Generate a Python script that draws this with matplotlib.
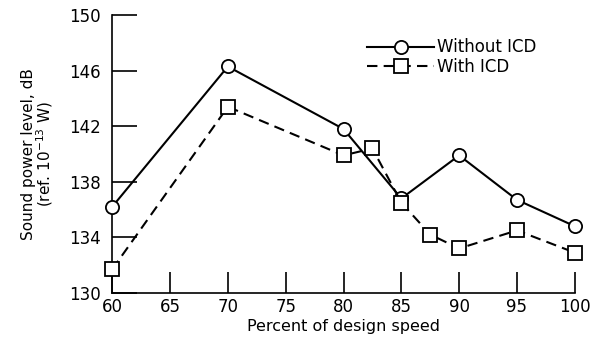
import numpy as np
import matplotlib.pyplot as plt
from matplotlib import font_manager

# data
speed_without = [60, 70, 80, 85, 90, 95, 100]
level_without = [136.2, 146.3, 141.8, 136.8, 139.9, 136.7, 134.8]

speed_with = [60, 70, 80, 82.5, 85, 87.5, 90, 95, 100]
level_with = [131.7, 143.4, 139.9, 140.4, 136.5, 134.2, 133.2, 134.5, 132.9]

xticks = [60, 65, 70, 75, 80, 85, 90, 95, 100]
yticks = [130, 134, 138, 142, 146, 150]

names = {f.name for f in font_manager.fontManager.ttflist}
fam = 'Liberation Sans Narrow' if 'Liberation Sans Narrow' in names else 'DejaVu Sans'
plt.rcParams['font.family'] = [fam, 'DejaVu Sans']

fig = plt.figure(figsize=(6, 3.43), dpi=100)
ax = fig.add_axes([0.187, 0.146, 0.771, 0.81])

ax.plot(speed_without, level_without, '-', color='black', lw=1.5,
        marker='o', ms=9.5, mfc='white', mec='black', mew=1.3,
        label='Without ICD', clip_on=False, zorder=3)
ax.plot(speed_with, level_with, '--', color='black', lw=1.5, dashes=(5, 3),
        marker='s', ms=9.5, mfc='white', mec='black', mew=1.3,
        label='With ICD', clip_on=False, zorder=3)

ax.set_xlim(60, 100)
ax.set_ylim(130, 150)
ax.set_xticks(xticks)
ax.set_yticks(yticks)
ax.spines['top'].set_visible(False)
ax.spines['right'].set_visible(False)
ax.tick_params(axis='y', direction='in', length=18, width=1.2, labelsize=12, pad=8)
ax.tick_params(axis='x', direction='in', length=15, width=1.2, labelsize=12)
for s in ['left', 'bottom']:
    ax.spines[s].set_linewidth(1.2)

ax.set_xlabel('Percent of design speed', fontsize=11.5, labelpad=2)
ax.set_ylabel('Sound power level, dB\n(ref. 10$^{-13}$ W)', fontsize=11,
              linespacing=0.9, labelpad=10)

ax.legend(loc='upper right', bbox_to_anchor=(0.95, 0.97), frameon=False,
          handlelength=4, fontsize=12, labelspacing=0.1, handletextpad=0.2)

fig.savefig('out.png', dpi=100)
